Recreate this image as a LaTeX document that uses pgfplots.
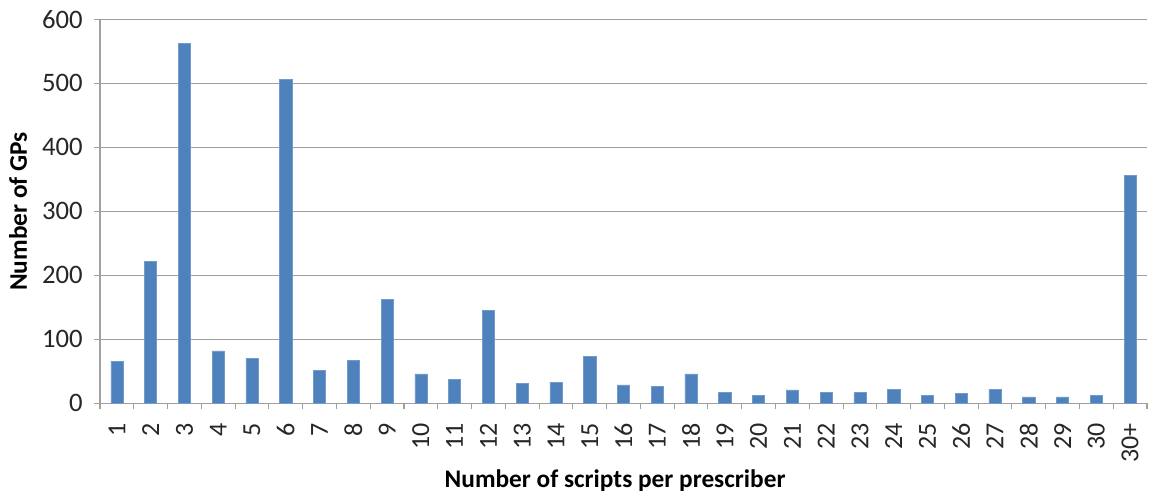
\documentclass[border=0pt]{standalone}
\usepackage{pgfplots}
\pgfplotsset{compat=1.18}
\usepackage{pgfplotstable}
\usepackage{fontspec}
\setmainfont{Carlito}

\definecolor{barblue}{HTML}{4F81BD}
\definecolor{gridgray}{HTML}{A0A0A0}

\pgfplotstableread{
x y
1 66
2 222
3 562
4 82
5 70
6 506
7 51
8 67
9 163
10 46
11 37
12 145
13 31
14 33
15 73
16 29
17 26
18 46
19 17
20 13
21 21
22 17
23 17
24 22
25 13
26 15
27 22
28 10
29 10
30 13
31 356
}\gpdata

\begin{document}
\begin{tikzpicture}
  \begin{axis}[
      at={(0,0)}, anchor=south west,
      scale only axis,
      width=785.25pt, height=288pt,
      xmin=0.5, xmax=31.5,
      ymin=0, ymax=600,
      ytick={0,100,...,600},
      ymajorgrids,
      grid style={gridgray, line width=0.8pt},
      axis x line*=bottom,
      axis y line*=left,
      axis line style={gridgray, line width=0.9pt},
      tick style={gridgray, line width=0.8pt},
      tick align=outside,
      major tick length=4.5pt,
      xtick={0.5,1.5,...,31.5},
      xticklabels={},
      extra x ticks={1,...,31},
      extra x tick labels={1,2,3,4,5,6,7,8,9,10,11,12,13,14,15,16,17,18,19,20,21,22,23,24,25,26,27,28,29,30,30+},
      extra x tick style={tick style={draw=none}, grid=none},
      /pgf/number format/assume math mode=true,
      tick label style={font=\fontsize{20}{20}\selectfont, black!85},
      x tick label style={rotate=90, anchor=east, xshift=-7pt, font=\fontsize{19.5}{20}\selectfont},
      y tick label style={xshift=-5pt},
      ylabel={\textbf{Number of GPs}},
      xlabel={\textbf{Number of scripts per prescriber}},
      label style={font=\fontsize{19}{21}\selectfont},
      ylabel style={at={(axis description cs:-0.0783,0.5)}, anchor=center},
      xlabel style={at={(axis description cs:0.492,0)}, yshift=-58pt, anchor=center},
    ]
    \addplot[ybar, bar width=0.36, fill=barblue, draw=barblue!80!white, line width=0.4pt]
      table[x=x, y=y] {\gpdata};
  \end{axis}
  \pgfresetboundingbox
  \path (-75pt,-67.3pt) rectangle (789.75pt,302.5pt);
\end{tikzpicture}
\end{document}
